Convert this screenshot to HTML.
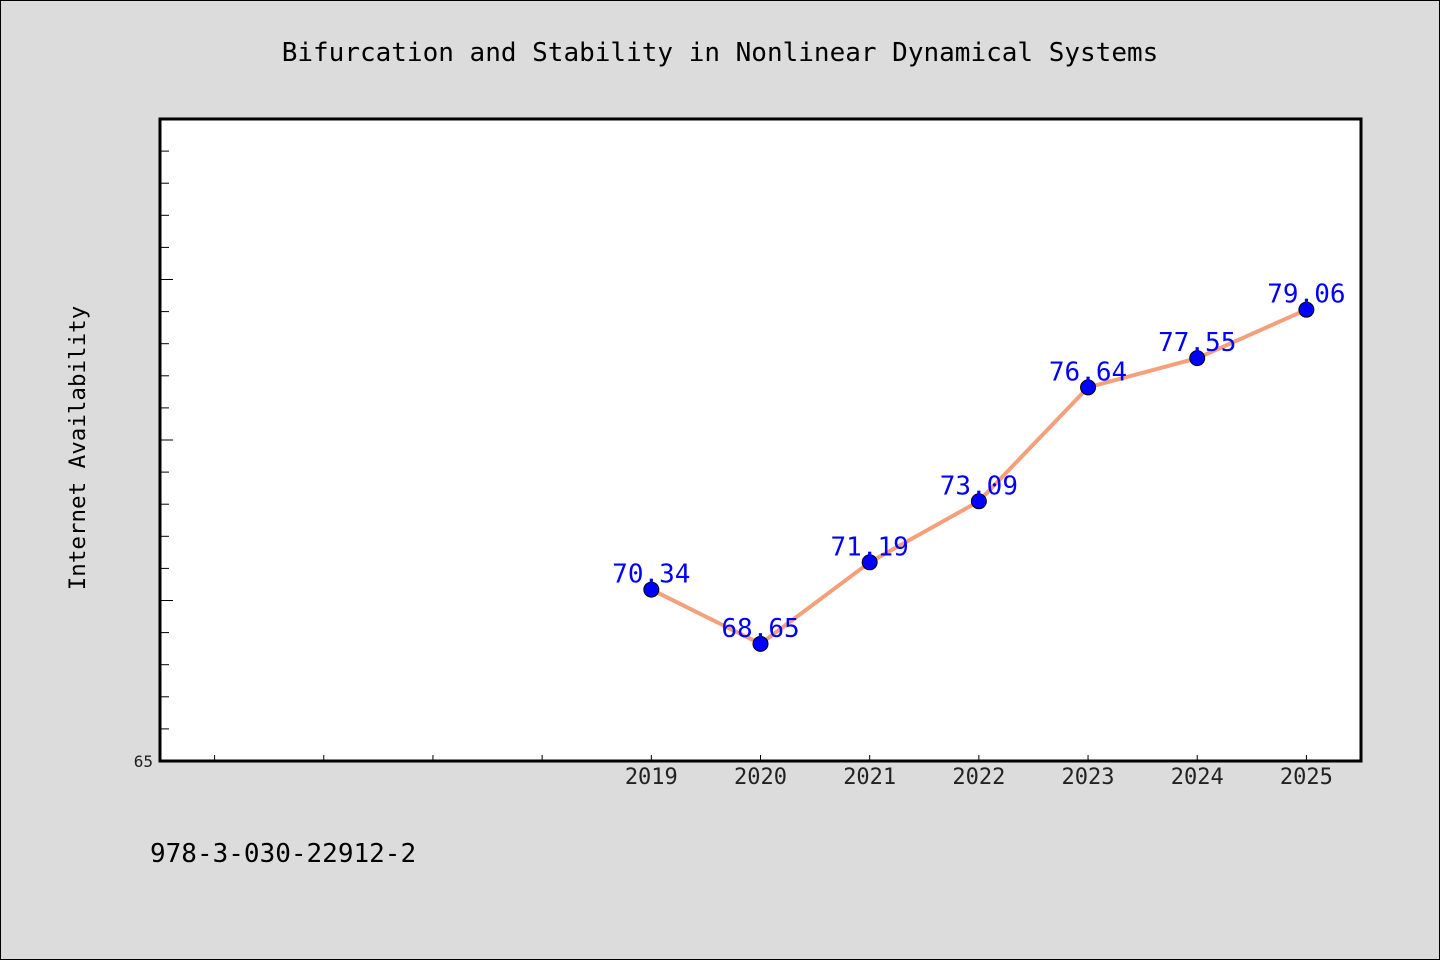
<!DOCTYPE html>
<html><head><meta charset="utf-8"><style>
html,body{margin:0;padding:0;background:#dcdcdc;}
svg{display:block;font-family:"DejaVu Sans Mono","Liberation Mono",monospace;}
</style></head><body>
<svg id="c" width="1440" height="960">
<rect x="0.5" y="0.5" width="1439" height="959" fill="#dcdcdc" stroke="#000"/>
<text x="720" y="61" text-anchor="middle" font-size="26" fill="#000">Bifurcation and Stability in Nonlinear Dynamical Systems</text>
<rect x="160" y="119" width="1201" height="642" fill="#fff" stroke="#000" stroke-width="3"/>
<text transform="translate(85,448) rotate(-90)" text-anchor="middle" font-size="22.5" fill="#000">Internet Availability</text>
<text x="150" y="862" font-size="26" fill="#000">978-3-030-22912-2</text>
<g id="ticks"></g><g id="series"></g>
</svg>
<script>
const categories=["2019","2020","2021","2022","2023","2024","2025"];
const values=[70.34,68.65,71.19,73.09,76.64,77.55,79.06];
const yMin=65,yMax=85;
const plotLeft=160,plotRight=1361,plotTop=119,plotBottom=761;
const xStart=2014.5,xEnd=2025.5;
const ns="http://www.w3.org/2000/svg";
function xs(yr){return plotLeft+(yr-xStart)/(xEnd-xStart)*(plotRight-plotLeft);}
function ys(v){return plotBottom-(v-yMin)/(yMax-yMin)*(plotBottom-plotTop);}
function mk(t,a,p){const e=document.createElementNS(ns,t);for(const k in a)e.setAttribute(k,a[k]);p.appendChild(e);return e;}
const tg=document.getElementById('ticks'),sg=document.getElementById('series');
for(let v=yMin+1;v<yMax;v++){
 const l=mk('line',{x1:plotLeft,x2:plotLeft+(v%5===0?13:9),y1:ys(v),y2:ys(v),stroke:'#000','stroke-width':1},tg);
 
 
}
const yl=mk('text',{x:153,y:ys(yMin)+6,'text-anchor':'end','font-size':16,fill:'#222'},tg);yl.textContent=String(yMin);


for(let yr=2015;yr<=2025;yr++){
 const l=mk('line',{x1:xs(yr),x2:xs(yr),y1:plotBottom,y2:plotBottom-6,stroke:'#000','stroke-width':1},tg);
 
 
}
categories.forEach(c=>{
 const t=mk('text',{x:xs(+c),y:plotBottom+23,'text-anchor':'middle','font-size':22,fill:'#222'},tg);t.textContent=c;
 
 
});
const pts=categories.map((c,i)=>xs(+c)+','+ys(values[i])).join(' ');
const pl=mk('polyline',{points:pts,fill:'none',stroke:'#f4a07a','stroke-width':4,'stroke-linejoin':'round'},sg);


categories.forEach((c,i)=>{
 const p=mk('circle',{cx:xs(+c),cy:ys(values[i]),r:7.5,fill:'#0000ff',stroke:'#000','stroke-width':1},sg);
 
 
 const t=mk('text',{x:xs(+c),y:ys(values[i])-7,'text-anchor':'middle','font-size':26,fill:'#0000ff'},sg);t.textContent=values[i].toFixed(2);
 
 
});
</script>
</body></html>
